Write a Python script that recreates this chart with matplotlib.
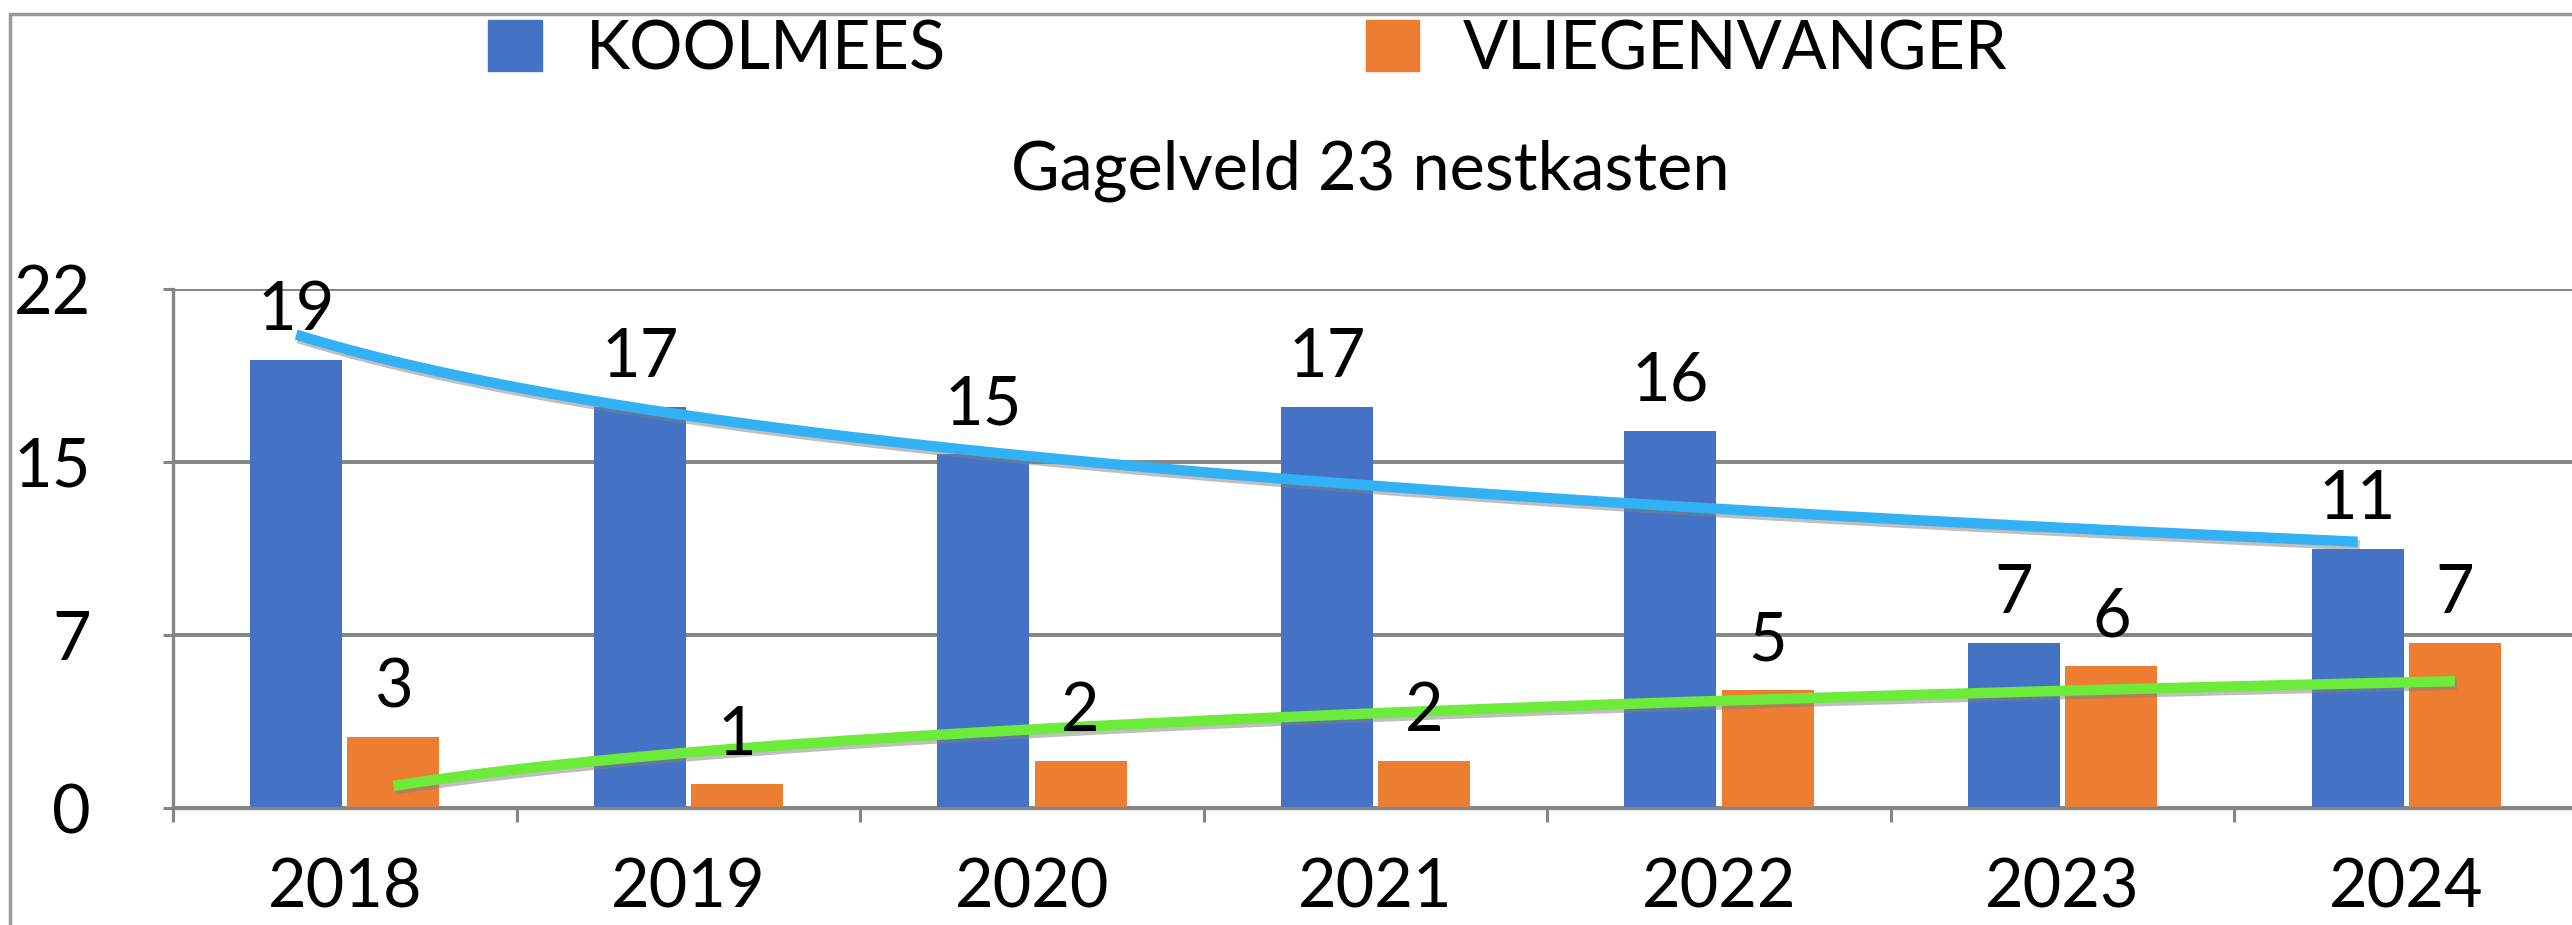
import matplotlib
matplotlib.use("Agg")
import matplotlib.pyplot as plt
import matplotlib.patheffects as pe
from matplotlib.patches import Patch, Rectangle
import numpy as np

# Data
years = ["2018", "2019", "2020", "2021", "2022", "2023", "2024"]
koolmees = [19, 17, 15, 17, 16, 7, 11]
vliegenvanger = [3, 1, 2, 2, 5, 6, 7]
series_names = ["KOOLMEES", "VLIEGENVANGER"]
title = "Gagelveld 23 nestkasten"

# Colours
blue = "#4472C4"
orange = "#ED7D31"
blue_trend = "#33B1F5"
green_trend = "#6CEB3A"
grid_grey = "#858585"

plt.rcParams['font.family'] = ['Lato', 'DejaVu Sans']
fs = 48

W, H = 2572, 925
fig = plt.figure(figsize=(W / 100, H / 100), dpi=100)
ax = fig.add_axes([173 / W, 117 / H, (2578 - 173) / W, (808 - 289) / H])

x = np.arange(len(years))
width = 0.268
off = 0.1415

bars1 = ax.bar(x - off, koolmees, width, color=blue, zorder=2)
bars2 = ax.bar(x + off, vliegenvanger, width, color=orange, zorder=2)

# Data labels above each bar
for bars, vals in [(bars1, koolmees), (bars2, vliegenvanger)]:
    for b, v in zip(bars, vals):
        ax.annotate(str(v), (b.get_x() + b.get_width() / 2, v),
                    xytext=(0, 21.5), textcoords="offset points",
                    ha="center", va="baseline", fontsize=fs, zorder=5)

# Logarithmic trendlines (as the spreadsheet draws them)
def log_trend(vals, shift, color):
    t = np.arange(1, len(vals) + 1)
    b, a = np.polyfit(np.log(t), vals, 1)
    tt = np.linspace(1, len(vals), 300)
    ax.plot(tt - 1 + shift, a + b * np.log(tt), color=color, lw=7.5,
            solid_capstyle="butt", zorder=4,
            path_effects=[pe.SimpleLineShadow(offset=(1.5, -2.5), shadow_color="grey", alpha=0.5),
                          pe.Normal()])

log_trend(koolmees, -off, blue_trend)
log_trend(vliegenvanger, off, green_trend)

# Axes
ax.set_xlim(-0.5, len(years) - 0.5)
ax.set_ylim(0, 22)
yt = np.linspace(0, 22, 4)
ax.set_yticks(yt, ["%.0f" % v for v in yt])
ax.set_xticks(x, years)
ax.set_xticks(np.arange(len(years) + 1) - 0.5, minor=True)
ax.tick_params(axis="x", which="major", length=0, pad=36, labelsize=fs)
ax.tick_params(axis="x", which="minor", length=10, width=2.2, color=grid_grey)
ax.tick_params(axis="y", length=7, width=2.2, color=grid_grey, pad=52, labelsize=fs)

ax.yaxis.grid(True, color=grid_grey, lw=2.8)
ax.set_axisbelow(True)
for s in ["top", "right"]:
    ax.spines[s].set_visible(False)
for s in ["left", "bottom"]:
    ax.spines[s].set_color(grid_grey)
    ax.spines[s].set_linewidth(2.4)

# Title and legend
fig.text(1370 / W, 1 - 190 / H, title, ha="center", va="baseline", fontsize=fs)
handles = [Patch(color=blue), Patch(color=orange)]
fig.legend(handles, series_names, loc="center", bbox_to_anchor=(1248 / W, 1 - 50 / H),
           ncol=2, frameon=False, fontsize=fs, handlelength=0.8, handleheight=0.8,
           handletextpad=0.66, columnspacing=6.3)

# Outer chart border
fig.add_artist(Rectangle((10 / W, -0.1), 1.1, 1 - 14 / H + 0.1, transform=fig.transFigure,
                         fill=False, ec="#999999", lw=2.5))

plt.savefig("out.png", dpi=100)
plt.close()
